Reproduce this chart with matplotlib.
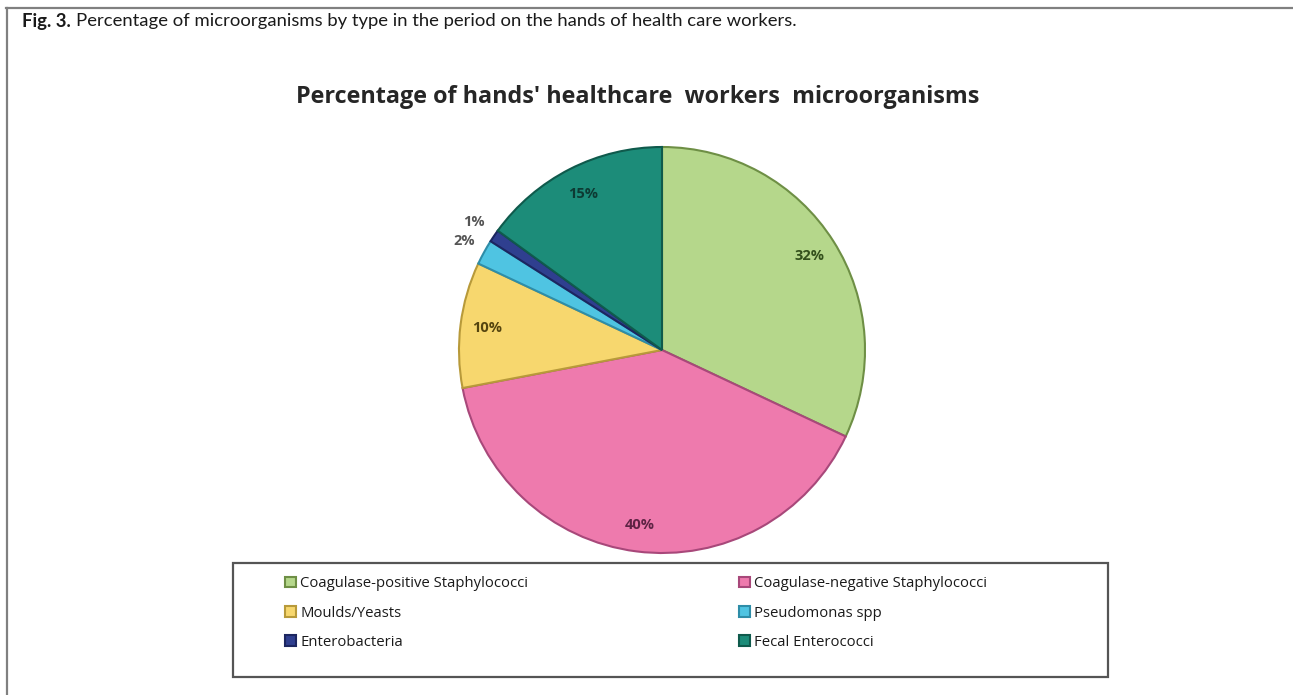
import matplotlib
matplotlib.use("Agg")
import matplotlib.pyplot as plt
from matplotlib.lines import Line2D
from matplotlib.patches import Rectangle
import numpy as np

# --- Data ---
categories = ["Coagulase-positive Staphylococci", "Coagulase-negative Staphylococci",
              "Moulds/Yeasts", "Pseudomonas spp", "Enterobacteria", "Fecal Enterococci"]
percent = [32, 40, 10, 2, 1, 15]
pct_labels = ["32%", "40%", "10%", "2%", "1%", "15%"]

# --- Style ---
colors = ["#B5D78B", "#EE7AAD", "#F7D76E", "#4FC4E2", "#2F3F8F", "#1C8C79"]
edges = ["#6E8F45", "#A8487A", "#B89A3A", "#2E8DA8", "#1C2660", "#0F5A4C"]
label_colors = ["#33501C", "#5E2344", "#54440F", "#555555", "#555555", "#0D3A33"]
label_dist = [0.86, 0.87, 0.87, 1.11, 1.12, 0.86]

W, H = 1293, 695
fig = plt.figure(figsize=(W / 100, H / 100), dpi=100)

def fx(px):
    return px / W

def fy(py):
    return 1 - py / H

# outer frame (top and left rules)
fig.add_artist(Line2D([fx(6), 1], [fy(8), fy(8)], color="#808080", lw=1.6))
fig.add_artist(Line2D([fx(7), fx(7)], [fy(8), 0], color="#808080", lw=1.6))

# caption
cap = fig.text(fx(22), fy(21), "Fig. 3.", fontsize=13.3, fontweight="bold",
               family="Lato", va="center", ha="left", color="#1a1a1a")
fig.canvas.draw()
bb = cap.get_window_extent()
fig.text(bb.x1 / W + fx(5), fy(21),
         "Percentage of microorganisms by type in the period on the hands of health care workers.",
         fontsize=13.3, family="Lato", va="center", ha="left", color="#1a1a1a")

# chart title
fig.text(fx(638), fy(97), "Percentage of hands' healthcare  workers  microorganisms",
         fontsize=16.8, fontweight="bold", family="Open Sans", ha="center", va="center",
         color="#262626")

# pie
cx, cy, r = 662, 350, 203
ax = fig.add_axes([fx(cx - r), fy(cy + r), 2 * r / W, 2 * r / H])
wedges, _ = ax.pie(percent, colors=colors, startangle=90, counterclock=False,
                   wedgeprops=dict(linewidth=1.5))
for w, ec in zip(wedges, edges):
    w.set_edgecolor(ec)
ax.set_xlim(-1, 1)
ax.set_ylim(-1, 1)
ax.set_aspect("equal")
ax.axis("off")

for w, lab, d, c in zip(wedges, pct_labels, label_dist, label_colors):
    ang = np.deg2rad((w.theta1 + w.theta2) / 2)
    ax.text(d * np.cos(ang), d * np.sin(ang), lab, ha="center", va="center",
            fontsize=10.5, fontweight="bold", family="Open Sans", color=c)

# legend frame
fig.add_artist(Rectangle((fx(233), fy(677)), fx(1108) - fx(233), fy(563) - fy(677),
                         transform=fig.transFigure, fill=False, edgecolor="#555555", lw=1.6))

leg_kw = dict(frameon=False, loc="upper left", handlelength=0.7,
              handleheight=0.7, handletextpad=0.3, labelspacing=0.95, borderpad=0,
              labelcolor="#1a1a1a", prop=dict(family="Open Sans", size=10.7))
left_idx = [0, 2, 4]
right_idx = [1, 3, 5]
fig.legend([wedges[i] for i in left_idx], [categories[i] for i in left_idx],
           bbox_to_anchor=(fx(278), fy(569)), **leg_kw)
fig.legend([wedges[i] for i in right_idx], [categories[i] for i in right_idx],
           bbox_to_anchor=(fx(732), fy(569)), **leg_kw)

fig.savefig("out.png", dpi=100, facecolor="white")
